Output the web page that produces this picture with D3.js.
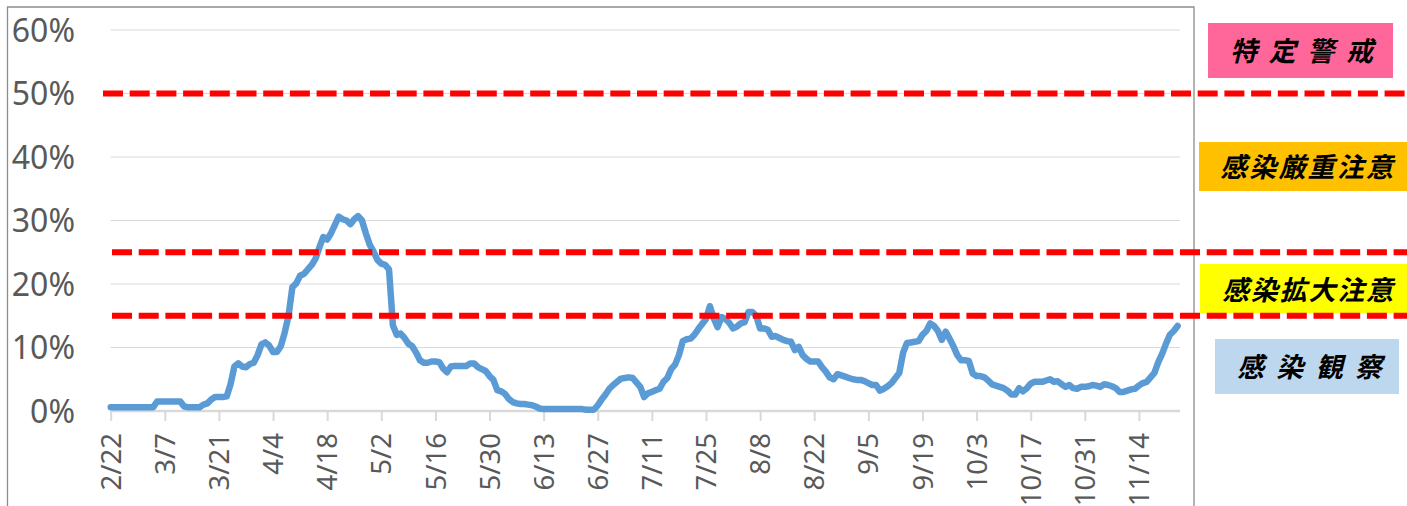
<!DOCTYPE html>
<html>
<head>
<meta charset="utf-8">
<script src="https://cdn.jsdelivr.net/npm/d3@7/dist/d3.min.js"></script>
<style>
  html, body { margin: 0; padding: 0; background: #fff; }
  svg { display: block; }
</style>
</head>
<body>
<svg id="chart" width="1407" height="506"></svg>
<script>
// ---- data ----
const startDate = "2020-02-22";
// daily positive rate (%) from 2/22 to 11/24
const values = [
  0.6,0.6,0.6,0.6,0.6,0.6,0.6,0.6,0.6,0.6,
  0.6,0.6,1.5,1.5,1.5,1.5,1.5,1.5,1.5,0.7,
  0.6,0.6,0.6,0.6,1.0,1.2,1.8,2.2,2.2,2.2,
  2.3,4.2,7.0,7.5,7.0,6.9,7.4,7.6,8.8,10.5,
  10.8,10.3,9.3,9.3,10.2,12.3,15.0,19.5,20.1,21.3,
  21.6,22.3,23.0,24.0,25.8,27.4,27.0,28.0,29.3,30.6,
  30.2,30.0,29.4,30.2,30.7,30.0,28.0,26.2,25.1,23.8,
  23.2,23.0,22.3,13.5,12.0,12.2,11.5,10.6,10.2,9.2,
  8.0,7.6,7.6,7.8,7.8,7.7,6.7,6.1,7.0,7.1,
  7.1,7.1,7.1,7.5,7.5,6.9,6.6,6.3,5.5,4.9,
  3.3,3.1,2.7,1.9,1.4,1.2,1.1,1.1,1.0,0.9,
  0.7,0.4,0.3,0.3,0.3,0.3,0.3,0.3,0.3,0.3,
  0.3,0.3,0.3,0.2,0.2,0.2,0.9,1.8,2.6,3.5,
  4.1,4.6,5.1,5.2,5.3,5.2,4.5,3.8,2.2,2.8,
  3.0,3.3,3.5,4.6,5.2,6.6,7.3,8.8,11.0,11.3,
  11.4,12.0,12.9,13.7,14.5,16.5,14.6,13.2,14.8,14.5,
  13.9,13.0,13.3,13.8,14.0,15.6,15.6,15.0,13.0,13.0,
  12.8,11.7,11.8,11.5,11.2,11.0,10.9,9.6,10.1,8.8,
  8.2,7.8,7.8,7.8,6.9,6.2,5.3,5.0,5.8,5.6,
  5.4,5.2,5.0,4.9,4.9,4.7,4.4,4.1,4.1,3.2,
  3.5,3.9,4.4,5.2,6.0,9.2,10.7,10.8,10.9,11.0,
  12.0,12.6,13.8,13.4,12.6,11.2,12.5,11.4,10.2,8.8,
  8.0,8.0,7.9,5.9,5.5,5.5,5.3,4.8,4.2,4.0,
  3.8,3.6,3.2,2.6,2.6,3.6,3.1,3.6,4.3,4.6,
  4.6,4.6,4.8,5.0,4.6,4.7,4.2,3.8,4.1,3.6,
  3.5,3.8,3.8,3.9,4.1,4.0,3.8,4.2,4.1,3.9,
  3.6,3.0,3.0,3.2,3.4,3.5,4.0,4.4,4.6,5.3,
  6.0,7.7,9.0,10.6,12.0,12.6,13.4
];
const xTickLabels = ["2/22","3/7","3/21","4/4","4/18","5/2","5/16","5/30","6/13","6/27",
  "7/11","7/25","8/8","8/22","9/5","9/19","10/3","10/17","10/31","11/14"];
const yTicks = [0, 10, 20, 30, 40, 50, 60];
const thresholds = [50, 25, 15];
const levelLabels = ["特定警戒", "感染厳重注意", "感染拡大注意", "感染観察"];
const levelColors = ["#FF6699", "#FFC000", "#FFFF00", "#BDD7EE"];

// ---- layout ----
const svg = d3.select("#chart");
const plotLeft = 110.7, plotRight = 1180, lastX = 1177.6;
const day0 = new Date(startDate + "T00:00:00");
const dayMs = 86400000;
const dates = values.map((v, i) => new Date(day0.getTime() + i * dayMs));

const x = d3.scaleTime()
  .domain([dates[0], dates[dates.length - 1]])
  .range([plotLeft, lastX]);
const y = d3.scaleLinear().domain([0, 60]).range([411, 30]);

svg.append("rect").attr("width", 1407).attr("height", 506).attr("fill", "#fff");

// chart border
svg.append("path")
  .attr("d", "M7.5,506 V7 H1194 V506")
  .attr("fill", "none").attr("stroke", "#8c8c8c").attr("stroke-width", 1.3);

// gridlines
svg.append("g").selectAll("line").data(yTicks.filter(t => t > 0)).join("line")
  .attr("x1", plotLeft).attr("x2", plotRight)
  .attr("y1", d => y(d)).attr("y2", d => y(d))
  .attr("stroke", "#D9D9D9").attr("stroke-width", 1.2);

// y labels
svg.append("g").selectAll("text").data(yTicks).join("text")
  .attr("x", 75).attr("y", d => y(d))
  .attr("dy", "0.36em")
  .attr("text-anchor", "end")
  .attr("font-family", "'Noto Sans', 'Open Sans', sans-serif")
  .attr("font-size", 32)
  .attr("fill", "#595959")
  .text(d => d + "%");

// x axis
const tickDates = xTickLabels.map((l, i) => new Date(day0.getTime() + i * 14 * dayMs));
const xAxis = d3.axisBottom(x)
  .tickValues(tickDates)
  .tickSize(10)
  .tickFormat((d, i) => xTickLabels[i]);
const gx = svg.append("g").attr("transform", `translate(0,${y(0)})`).call(xAxis);
gx.select(".domain").remove();
gx.selectAll(".tick line").attr("stroke", "#D9D9D9").attr("stroke-width", 2);
gx.selectAll(".tick text")
  .attr("transform", "rotate(-90)")
  .attr("x", -22).attr("y", 0).attr("dy", "0.35em")
  .attr("text-anchor", "end")
  .attr("font-family", "'Noto Sans', 'Open Sans', sans-serif")
  .attr("font-size", 27.5)
  .attr("fill", "#595959");
svg.append("line")
  .attr("x1", plotLeft).attr("x2", plotRight)
  .attr("y1", y(0)).attr("y2", y(0))
  .attr("stroke", "#D9D9D9").attr("stroke-width", 2.5);

// data line
const line = d3.line()
  .x((d, i) => x(dates[i]))
  .y(d => y(d));
svg.append("path")
  .datum(values)
  .attr("d", line)
  .attr("fill", "none")
  .attr("stroke", "#5B9BD5")
  .attr("stroke-width", 6.5)
  .attr("stroke-linejoin", "round")
  .attr("stroke-linecap", "round");

// level boxes
const boxes = [
  {x0: 1208, x1: 1393, y0: 23, y1: 78, tx0: 1230, tx1: 1373, ty: 49},
  {x0: 1199, x1: 1407, y0: 142, y1: 191, tx0: 1220, tx1: 1393, ty: 165},
  {x0: 1200, x1: 1407, y0: 264, y1: 313, tx0: 1222, tx1: 1393, ty: 288},
  {x0: 1215, x1: 1399, y0: 339, y1: 394, tx0: 1237, tx1: 1382, ty: 365}
];
const gb = svg.append("g");
boxes.forEach((b, i) => {
  gb.append("rect")
    .attr("x", b.x0).attr("y", b.y0)
    .attr("width", b.x1 - b.x0).attr("height", b.y1 - b.y0)
    .attr("fill", levelColors[i]);
  gb.append("text")
    .attr("x", (b.tx0 + b.tx1) / 2).attr("y", b.ty)
    .attr("dominant-baseline", "central")
    .attr("text-anchor", "middle")
    .attr("textLength", b.tx1 - b.tx0)
    .attr("lengthAdjust", "spacing")
    .attr("font-family", "'Noto Sans CJK JP', sans-serif")
    .attr("font-weight", "bold")
    .attr("font-style", "italic")
    .attr("font-size", 27)
    .attr("fill", "#000")
    .text(levelLabels[i]);
});

// threshold dashed lines
svg.append("g").selectAll("line").data(thresholds).join("line")
  .attr("x1", (d, i) => i === 0 ? 103 : 112).attr("x2", 1407)
  .attr("y1", d => y(d)).attr("y2", d => y(d))
  .attr("stroke", "#FF0000")
  .attr("stroke-width", 6)
  .attr("stroke-dasharray", "20 6.7");
</script>
</body>
</html>
